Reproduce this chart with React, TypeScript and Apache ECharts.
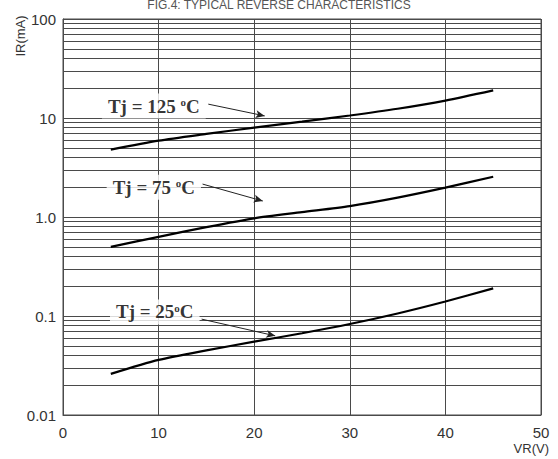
import React, { useEffect, useRef } from 'react';
import * as echarts from 'echarts';

const voltages = [5, 10, 15, 20, 25, 30, 35, 40, 45];
const current125 = [4.8, 5.9, 6.9, 8.0, 9.2, 10.6, 12.4, 15.0, 19];
const current75 = [0.5, 0.63, 0.79, 0.97, 1.12, 1.29, 1.57, 1.98, 2.55];
const current25 = [0.026, 0.036, 0.045, 0.055, 0.067, 0.083, 0.106, 0.14, 0.19];

const xTicks = [0, 10, 20, 30, 40, 50];
const yTickLabels: Record<string, string> = { '0.01': '0.01', '0.1': '0.1', '1': '1.0', '10': '10', '100': '100' };
const decades = [0.01, 0.1, 1, 10];
const minorSteps = [2, 3, 4, 5, 6, 7, 8, 9];

const labelTexts = ['{a|Tj = 125 }{s|o}{a|C}', '{a|Tj = 75 }{s|o}{a|C}', '{a|Tj = 25}{s|o}{a|C}'];
const labelPos = [[9.5, 13.2], [9.5, 2.0], [9.6, 0.11]];
const arrowStart = [[15.2, 13.8], [14.6, 2.15], [14.5, 0.093]];
const arrowEnd = [[21.1, 10.5], [20.9, 1.45], [22.2, 0.063]];

const GRID = '#4a4a4a';

export default function App() {
  const ref = useRef<HTMLDivElement>(null);
  useEffect(() => {
    if (!ref.current) return;
    const chart = echarts.init(ref.current, undefined, { renderer: 'svg' });
    const minorLines: any[] = [];
    decades.forEach((d) => minorSteps.forEach((m) => minorLines.push({ yAxis: +(d * m).toPrecision(3) })));
    const curve = (vals: number[]) => voltages.map((v, i) => [v, vals[i]]);
    const rich = {
      a: { fontFamily: 'Liberation Serif', fontWeight: 'bold', fontSize: 19, color: '#000' },
      s: { fontFamily: 'Liberation Serif', fontWeight: 'bold', fontSize: 11, color: '#000', verticalAlign: 'top' },
    };
    chart.setOption({
      animation: false,
      grid: { left: 63, right: 17, top: 19, bottom: 44, show: true, borderColor: GRID, borderWidth: 1 },
      title: {
        text: 'FIG.4: TYPICAL REVERSE CHARACTERISTICS',
        left: 'center',
        top: -6,
        textStyle: { fontFamily: 'Liberation Sans', fontSize: 12, fontWeight: 'normal', color: '#555' },
      },
      xAxis: {
        type: 'value',
        min: 0,
        max: 50,
        interval: 10,
        axisLine: { show: true, lineStyle: { color: GRID } },
        axisTick: { show: false },
        splitLine: { show: true, lineStyle: { color: GRID, width: 1 } },
        axisLabel: {
          fontFamily: 'Liberation Sans',
          fontSize: 15,
          color: '#333',
          margin: 10,
          formatter: (v: number) => (xTicks.includes(v) ? String(v) : ''),
        },
      },
      yAxis: {
        type: 'log',
        logBase: 10,
        min: 0.01,
        max: 100,
        axisLine: { show: true, lineStyle: { color: GRID } },
        axisTick: { show: false },
        splitLine: { show: true, lineStyle: { color: GRID, width: 1 } },
        axisLabel: {
          fontFamily: 'Liberation Sans',
          fontSize: 15,
          color: '#333',
          margin: 7,
          formatter: (v: number) => yTickLabels[String(+v.toPrecision(3))] ?? '',
        },
      },
      graphic: [
        {
          type: 'text',
          x: 20,
          y: 36,
          rotation: Math.PI / 2,
          style: { text: 'IR(mA)', fontFamily: 'Liberation Sans', fontSize: 13, fill: '#333', align: 'center', verticalAlign: 'middle' },
        },
        {
          type: 'text',
          x: 549,
          y: 448,
          style: { text: 'VR(V)', fontFamily: 'Liberation Sans', fontSize: 13, fill: '#333', align: 'right', verticalAlign: 'middle' },
        },
      ],
      series: [
        {
          type: 'line',
          data: [],
          silent: true,
          markLine: {
            silent: true,
            symbol: ['none', 'none'],
            label: { show: false },
            lineStyle: { color: GRID, width: 1, type: 'solid' },
            data: minorLines,
          },
        },
        ...[current125, current75, current25].map((vals) => ({
          type: 'line',
          data: curve(vals),
          smooth: 0.25,
          showSymbol: false,
          symbol: 'none',
          lineStyle: { color: '#000', width: 2.2 },
          z: 5,
        })),
        {
          type: 'scatter',
          symbolSize: 0,
          z: 10,
          data: labelPos.map((p, i) => ({
            value: p,
            label: {
              show: true,
              position: 'inside',
              formatter: labelTexts[i],
              backgroundColor: '#fff',
              padding: [3, 6],
              rich,
            },
          })),
          markLine: {
            silent: true,
            symbol: ['none', 'arrow'],
            symbolSize: [6, 9],
            label: { show: false },
            lineStyle: { color: '#222', width: 1, type: 'solid' },
            data: arrowStart.map((s, i) => [{ coord: s }, { coord: arrowEnd[i] }]),
          },
        },
      ],
    });
    return () => chart.dispose();
  }, []);
  return <div ref={ref} style={{ position: 'absolute', left: 0, top: 0, width: 558, height: 459 }} />;
}
